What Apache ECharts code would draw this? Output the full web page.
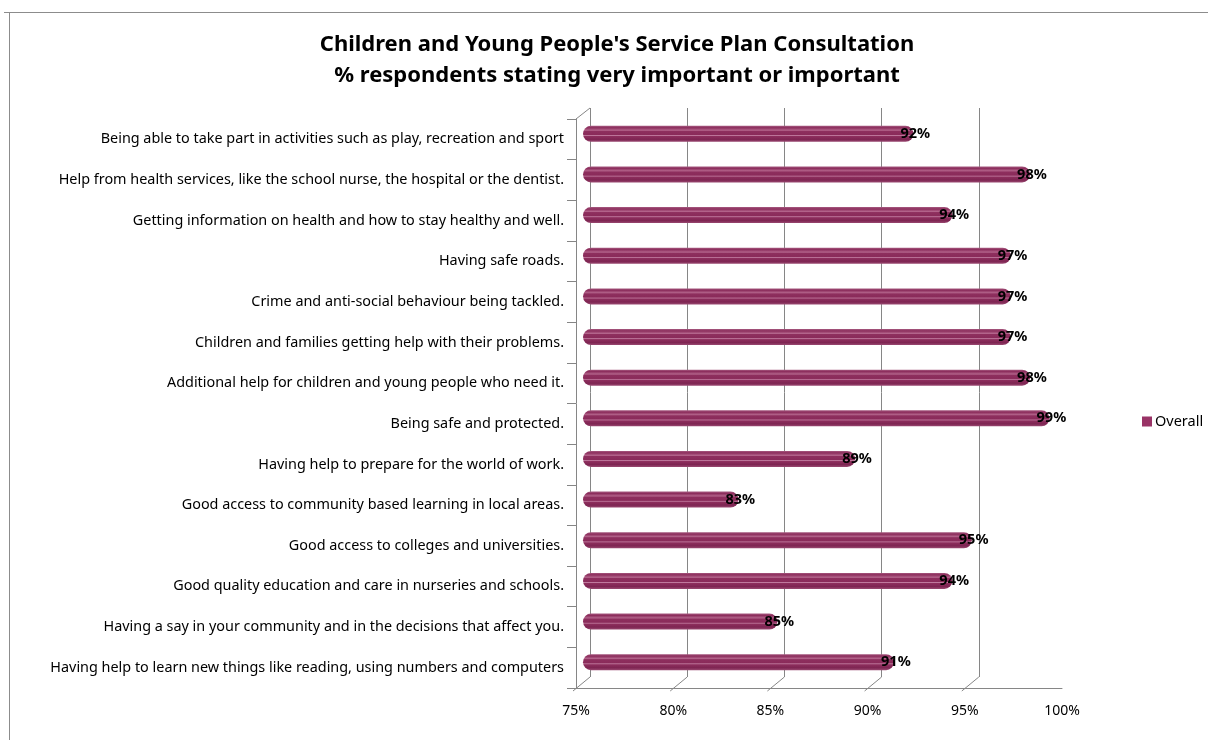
<!DOCTYPE html>
<html>
<head>
<meta charset="utf-8">
<script src="https://cdn.jsdelivr.net/npm/echarts@6/dist/echarts.min.js"></script>
<style>
html,body{margin:0;padding:0;background:#fff;}
#chart{width:1208px;height:740px;}
</style>
</head>
<body>
<div id="chart"></div>
<script>
const categories = [
  "Being able to take part in activities such as play, recreation and sport",
  "Help from health services, like the school nurse, the hospital or the dentist.",
  "Getting information on health and how to stay healthy and well.",
  "Having safe roads.",
  "Crime and anti-social behaviour being tackled.",
  "Children and families getting help with their problems.",
  "Additional help for children and young people who need it.",
  "Being safe and protected.",
  "Having help to prepare for the world of work.",
  "Good access to community based learning in local areas.",
  "Good access to colleges and universities.",
  "Good quality education and care in nurseries and schools.",
  "Having a say in your community and in the decisions that affect you.",
  "Having help to learn new things like reading, using numbers and computers"
];
const overall = [92, 98, 94, 97, 97, 97, 98, 99, 89, 83, 95, 94, 85, 91];
const xTicks = [75, 80, 85, 90, 95, 100];
const seriesName = "Overall";

const FONT = "Noto Sans";
const DX = 14, DY = -11; // depth offset of the back wall

const barGradient = new echarts.graphic.LinearGradient(0, 0, 0, 1, [
  {offset: 0, color: '#a65a80'},
  {offset: 0.12, color: '#8c2d5c'},
  {offset: 0.28, color: '#b3648b'},
  {offset: 0.34, color: '#8e2f5e'},
  {offset: 0.55, color: '#8a2b5a'},
  {offset: 0.6, color: '#c07a9e'},
  {offset: 0.66, color: '#8d2e5d'},
  {offset: 0.85, color: '#7e2552'},
  {offset: 1, color: '#9a4a72'}
]);

const chart = echarts.init(document.getElementById('chart'));
const option = {
  animation: false,
  backgroundColor: '#ffffff',
  title: {
    text: "Children and Young People's Service Plan Consultation\n% respondents stating very important or important",
    left: 612,
    top: 24,
    textAlign: 'center',
    textStyle: {
      fontFamily: FONT,
      fontWeight: 'bold',
      fontSize: 22,
      lineHeight: 31,
      color: '#000'
    }
  },
  legend: {
    data: [{name: seriesName, itemStyle: {color: '#993366'}}],
    left: 1137,
    top: 409,
    itemWidth: 10,
    itemHeight: 10,
    itemGap: 4,
    icon: 'rect',
    textStyle: {fontFamily: FONT, fontSize: 14.5, color: '#000', padding: [0,0,0,-2]}
  },
  graphic: [
    {type: 'line', shape: {x1: 4, y1: 12.5, x2: 1208, y2: 12.5}, style: {stroke: '#8c8c8c', lineWidth: 1}},
    {type: 'line', shape: {x1: 9.5, y1: 12, x2: 9.5, y2: 740}, style: {stroke: '#8c8c8c', lineWidth: 1}}
  ],
  grid: [
    {left: 576, top: 119, width: 486, height: 569},
    {left: 576 + DX, top: 119 + DY, width: 486, height: 569},
    {left: 576 + DX / 2, top: 119 + DY / 2, width: 486, height: 569}
  ],
  xAxis: [
    {
      gridIndex: 0, type: 'value', min: 75, max: 100, interval: 5,
      axisLine: {show: true, lineStyle: {color: '#868686'}},
      axisTick: {show: false},
      splitLine: {show: false},
      axisLabel: {
        fontFamily: FONT, fontSize: 14, color: '#000', margin: 16,
        formatter: v => v + '%'
      }
    },
    {
      gridIndex: 1, type: 'value', min: 75, max: 100, interval: 5,
      axisLine: {show: false}, axisTick: {show: false}, axisLabel: {show: false},
      splitLine: {show: true, showMaxLine: false, lineStyle: {color: '#868686', width: 1}}
    },
    {
      gridIndex: 2, type: 'value', min: 75, max: 100, interval: 5,
      show: false
    }
  ],
  yAxis: [
    {
      gridIndex: 0, type: 'category', data: categories, inverse: true,
      axisLine: {show: true, lineStyle: {color: '#868686'}},
      axisTick: {show: true, length: 9, lineStyle: {color: '#868686'}},
      axisLabel: {fontFamily: FONT, fontSize: 14.4, color: '#000', margin: 12}
    },
    {
      gridIndex: 1, type: 'category', data: categories, inverse: true, show: false
    },
    {
      gridIndex: 2, type: 'category', data: categories, inverse: true, show: false
    }
  ],
  series: [
    {
      name: seriesName,
      type: 'bar',
      xAxisIndex: 2,
      yAxisIndex: 2,
      data: overall,
      barWidth: 16,
      itemStyle: {color: barGradient, borderRadius: 8},
      label: {
        show: true,
        position: 'right',
        distance: -13,
        formatter: p => p.value + '%',
        fontFamily: FONT,
        fontWeight: 'bold',
        fontSize: 14.5,
        color: '#000'
      }
    },
    {
      name: 'depth',
      type: 'custom',
      xAxisIndex: 0,
      yAxisIndex: 0,
      silent: true,
      data: xTicks.filter(v => v < 100).map(v => [v, 0]),
      renderItem: function (params, api) {
        const cs = params.coordSys;
        const x = api.coord([api.value(0), 0])[0];
        const bottom = cs.y + cs.height;
        const children = [{
          type: 'line',
          shape: {x1: x - 3, y1: bottom + 3, x2: x + DX, y2: bottom + DY},
          style: {stroke: '#868686', lineWidth: 1}
        }];
        if (params.dataIndex === 0) {
          children.push({
            type: 'line',
            shape: {x1: x, y1: cs.y, x2: x + DX, y2: cs.y + DY},
            style: {stroke: '#868686', lineWidth: 1}
          });
        }
        return {type: 'group', children: children};
      },
      z: 1
    }
  ]
};
chart.setOption(option);
</script>
</body>
</html>
